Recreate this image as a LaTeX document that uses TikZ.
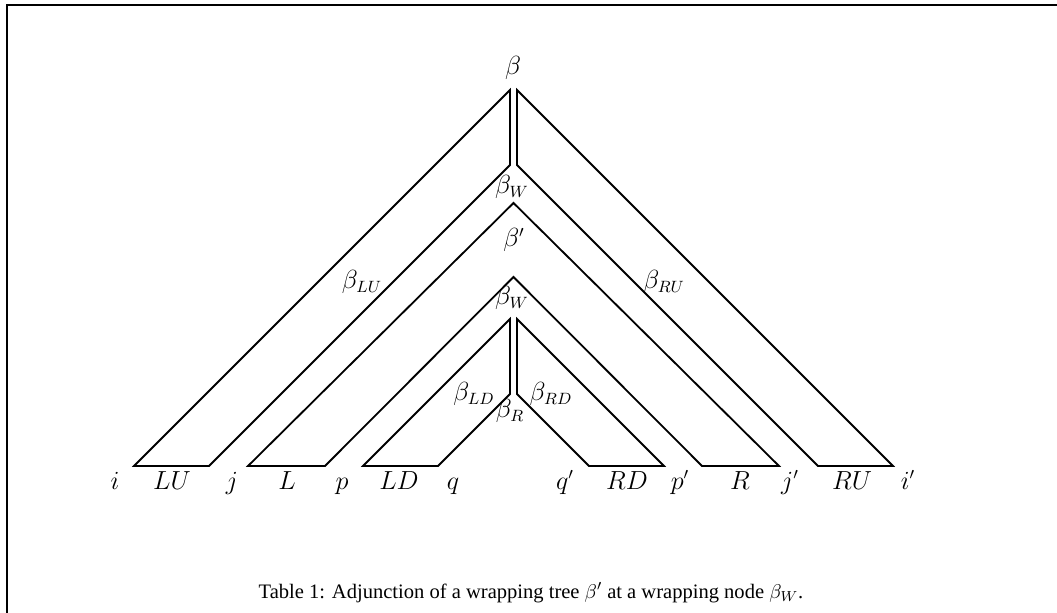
\documentclass[tikz,border=0pt]{standalone}
\usepackage{fontspec}
\setmainfont{Liberation Serif}
\usetikzlibrary{calc,positioning}
\tikzset{treepart/.style={line width=1pt,line join=miter},
framepart/.style={line width=1pt}}

\begin{document}
\begin{tikzpicture}[x=0.55pt,y=-0.55pt,font=\fontsize{13.5}{16}\selectfont]

\tikzset{leaflabel/.style={anchor=base,inner sep=0pt},
treelabel/.style={inner sep=1pt}}

\useasboundingbox (0,0) rectangle (1057,613);

% Frame
\coordinate (frameBL) at (7,620);
\coordinate (frameTL) at (7,5);
\coordinate (frameTR) at (1065,5);
\draw[framepart] (frameBL) -- (frameTL) -- (frameTR);

% Outer tree beta, split at the wrapping node
\coordinate (luA) at (134,466); \coordinate (luB) at (510,90);
\coordinate (luC) at (510,165); \coordinate (luD) at (209,466);
\coordinate (ruA) at (893,466); \coordinate (ruB) at (517,90);
\coordinate (ruC) at (517,165); \coordinate (ruD) at (818,466);
\draw[treepart] (luA) -- (luB) -- (luC) -- (luD) -- cycle;
\draw[treepart] (ruA) -- (ruB) -- (ruC) -- (ruD) -- cycle;

% Wrapping tree beta'
\coordinate (lA) at (248,466); \coordinate (top) at (513.5,203);
\coordinate (rA) at (779,466); \coordinate (rD) at (702,466);
\coordinate (foot) at (513.5,277); \coordinate (lD) at (325,466);
\draw[treepart] (lA) -- (top) -- (rA) -- (rD) -- (foot) -- (lD) -- cycle;

% Lower part of beta
\coordinate (ldA) at (363,466); \coordinate (ldB) at (510,319);
\coordinate (ldC) at (510,394); \coordinate (ldD) at (438,466);
\coordinate (rdA) at (664,466); \coordinate (rdB) at (517,319);
\coordinate (rdC) at (517,394); \coordinate (rdD) at (589,466);
\draw[treepart] (ldA) -- (ldB) -- (ldC) -- (ldD) -- cycle;
\draw[treepart] (rdA) -- (rdB) -- (rdC) -- (rdD) -- cycle;

% Tree labels
\node[treelabel] (beta) at (513,68) {$\beta$};
\node[treelabel] (betaW) at (512,187) {$\beta_W$};
\node[treelabel] (betaP) at (514,240) {$\beta'$};
\node[treelabel] (betaWin) at (512,298) {$\beta_W$};
\node[treelabel] (betaLU) at (362,282) {$\beta_{LU}$};
\node[treelabel] (betaRU) at (664,282) {$\beta_{RU}$};
\node[treelabel] (betaLD) at (474,394) {$\beta_{LD}$};
\node[treelabel] (betaRD) at (551,394) {$\beta_{RD}$};
\node[treelabel] (betaR) at (510,411) {$\beta_R$};

% Leaf labels
\foreach \x/\t [count=\n] in {115/i,172/LU,232/j,287/L,342/p,399/LD,453/q,
565/q',627/RD,680/p',740/R,790/j',852/RU,908/i'}
\node[leaflabel] (leaf\n) at (\x,489) {$\t$};

% Caption
\node[anchor=base,font=\fontsize{11.3}{13}\selectfont] (caption) at (531,598) {Table 1: Adjunction of a wrapping tree $\beta'$ at a wrapping node $\beta_W$.};

\end{tikzpicture}
\end{document}
